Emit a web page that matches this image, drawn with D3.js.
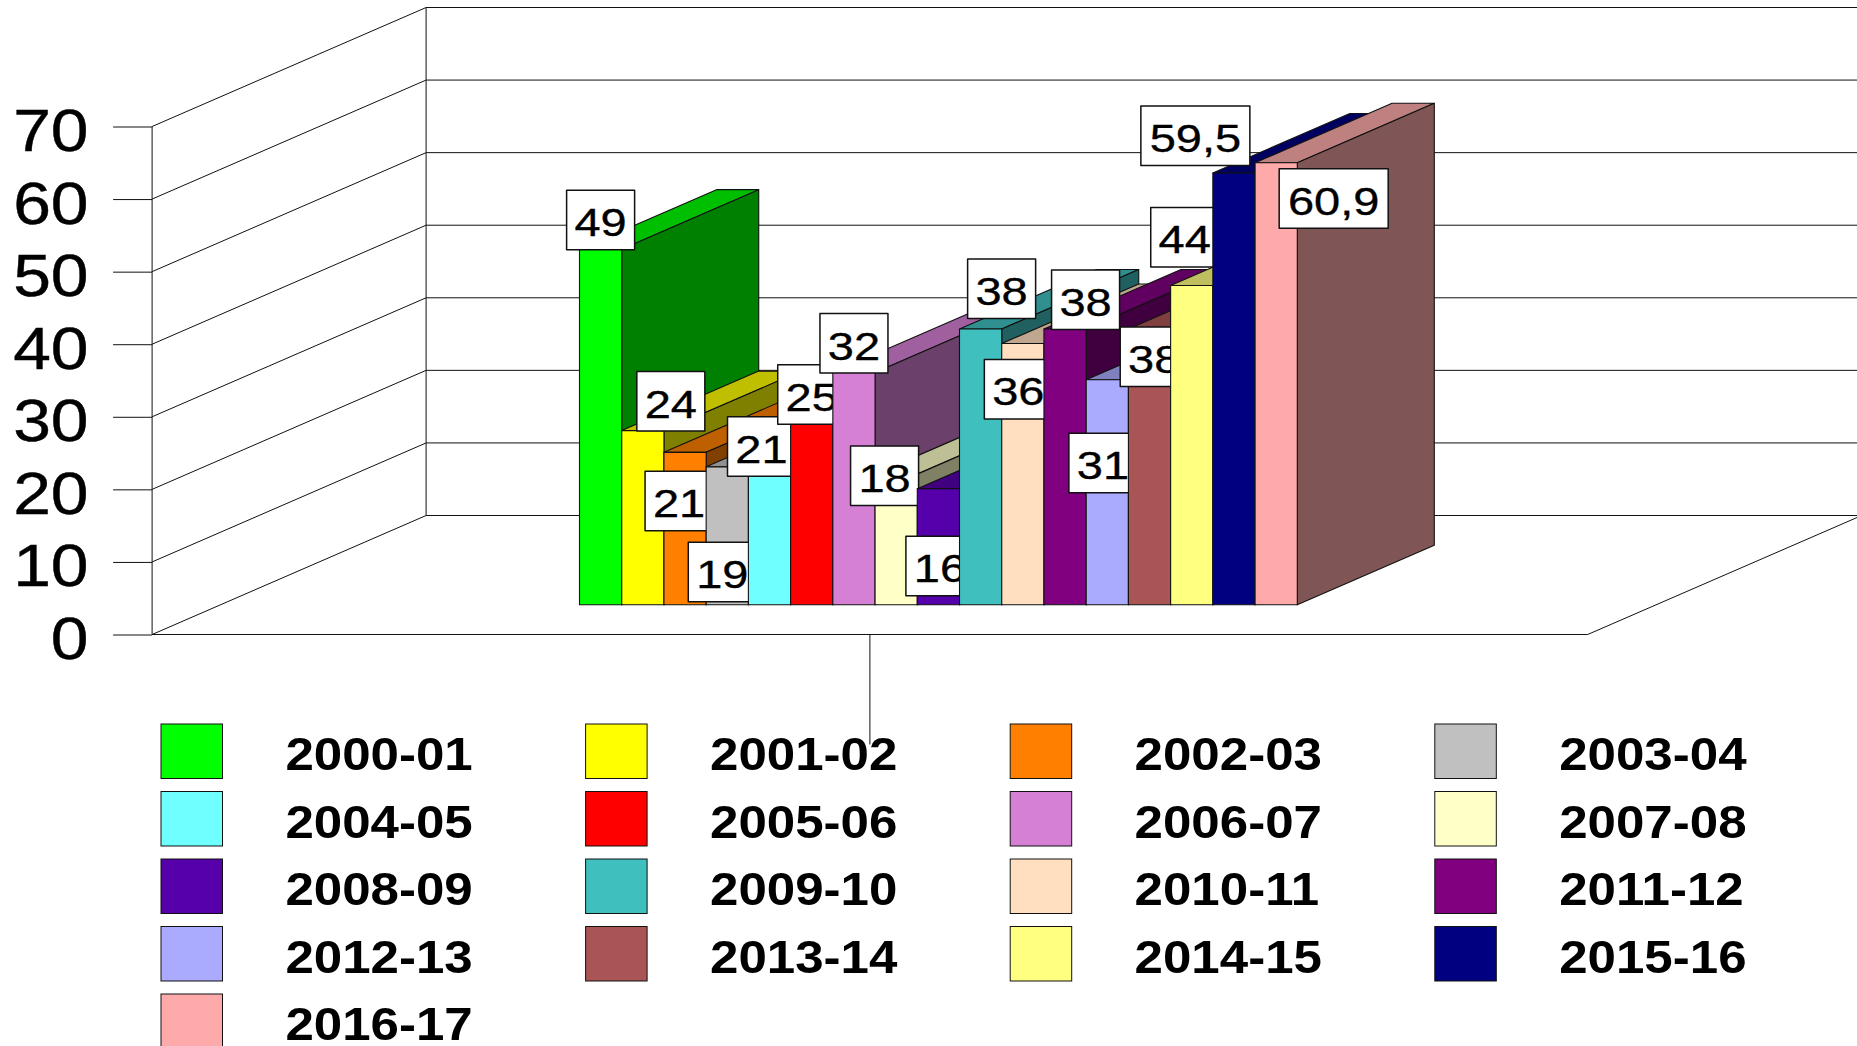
<!DOCTYPE html>
<html><head><meta charset="utf-8">
<script src="https://cdn.jsdelivr.net/npm/d3@7/dist/d3.min.js"></script>
<style>html,body{margin:0;padding:0;background:#fff;overflow:hidden}svg{display:block}text{font-family:"Liberation Sans",Arial,sans-serif;fill:#000}</style>
</head><body><svg id="c" width="1857" height="1046"></svg>
<script>
const seasons = ["2000-01","2001-02","2002-03","2003-04","2004-05","2005-06","2006-07","2007-08","2008-09","2009-10","2010-11","2011-12","2012-13","2013-14","2014-15","2015-16","2016-17"];
const values = [49,24,21,19,21,25,32,18,16,38,36,38,31,38,44,59.5,60.9];
const colors = ["#00FF00","#FFFF00","#FF8000","#C0C0C0","#70FFFF","#FF0000","#D580D5","#FFFFC8","#5500AA","#40BFBF","#FFDFBF","#800080","#AAAAFF","#AA5555","#FFFF80","#000080","#FFAAAA"];
const yTicks = [0,10,20,30,40,50,60,70];
// hand-placed label nudges, relative to a label centred on top of its bar
const labelDx = [0,28,-6,-5,-8,0,0,-11.6,1.5,21,-4.5,20.5,-4.4,4.7,-7,-38.6,57.5];
const labelDy = [1,1,79,135.5,24.5,1.5,1,32,107.5,-10,76,1,113.5,58,-18,-7,66];

const svg = d3.select("#c");
const INK = "#111";
const originX = 152.1, plotW = 1435.6, depthX = 274, depthY = 119;
const y = d3.scaleLinear().domain([0,70]).range([634.5,126.5]);
const x = d3.scaleBand().domain(seasons).range([plotW*0.25, plotW*0.75]).padding(0);
const px = (xv,z) => originX + xv + z*depthX;
const py = (v,z) => y(v) - z*depthY;
const Z0 = 0.25, Z1 = 0.75;
const line = d3.line();

// walls
const walls = svg.append("g").attr("fill","none").attr("stroke",INK).attr("stroke-width",1);
yTicks.forEach(t=>{
  walls.append("path").attr("d",line([[px(0,0),py(t,0)],[px(0,1),py(t,1)],[px(plotW,1),py(t,1)]]));
});
walls.append("path").attr("d",line([[px(0,0),py(0,0)],[px(0,0),py(70,0)]]));
walls.append("path").attr("d",line([[px(0,1),py(0,1)],[px(0,1),py(70,1)]]));
walls.append("path").attr("d",line([[px(0,0),py(0,0)],[px(plotW,0),py(0,0)],[px(plotW,1),py(0,1)]]));
walls.append("path").attr("d",line([[px(plotW/2,0),py(0,0)],[px(plotW/2,0),py(0,0)+110]]));

// y axis, through d3.axisLeft
const axis = svg.append("g").attr("transform",`translate(${originX},0)`)
  .call(d3.axisLeft(y).tickValues(yTicks).tickSize(39).tickPadding(0).tickFormat(d3.format("d")));
axis.select(".domain").remove();
axis.selectAll("line").attr("stroke",INK).attr("stroke-width",1);
axis.selectAll("text").each(function(d){
  d3.select(this).attr("x",null).attr("dy",null).attr("text-anchor","end")
    .attr("transform",`translate(-63.5,24) scale(1.15,1)`)
    .attr("font-size",59).attr("font-family",'"Liberation Sans",Arial,sans-serif')
    .attr("stroke","#000").attr("stroke-width",0.4);
});

// bars drawn left to right; each later bar hides earlier labels
const LW = 68, LW2 = 109, LH = 59.5;
seasons.forEach((s,i)=>{
  const v = values[i], c = d3.color(colors[i]);
  const xa = x(s), xb = xa + x.bandwidth();
  const shade = k => d3.rgb(c.r*k,c.g*k,c.b*k).formatHex();
  const g = svg.append("g").attr("stroke",INK).attr("stroke-width",1.1).attr("stroke-linejoin","round");
  g.append("path").attr("fill",shade(0.75)).attr("d",line([[px(xa,Z0),py(v,Z0)],[px(xb,Z0),py(v,Z0)],[px(xb,Z1),py(v,Z1)],[px(xa,Z1),py(v,Z1)]])+"Z");
  g.append("path").attr("fill",shade(0.5)).attr("d",line([[px(xb,Z0),py(0,Z0)],[px(xb,Z1),py(0,Z1)],[px(xb,Z1),py(v,Z1)],[px(xb,Z0),py(v,Z0)]])+"Z");
  g.append("path").attr("fill",colors[i]).attr("d",line([[px(xa,Z0),py(0,Z0)],[px(xb,Z0),py(0,Z0)],[px(xb,Z0),py(v,Z0)],[px(xa,Z0),py(v,Z0)]])+"Z");
  const txt = String(v).replace(".",",");
  const w = txt.length>2 ? LW2 : LW;
  const cx = px((xa+xb)/2,Z0) + labelDx[i];
  const by = py(v,Z0) + labelDy[i] - 0.5;
  g.append("rect").attr("x",cx-w/2).attr("y",by-LH).attr("width",w).attr("height",LH).attr("fill","#fff").attr("stroke-width",1.5);
  g.append("text").attr("transform",`translate(${cx},${by-13.5}) scale(1.19,1)`).attr("text-anchor","middle")
    .attr("font-size",39.5).attr("stroke","#000").attr("stroke-width",0.35).text(txt);
});

// legend
const colX = d3.scalePoint().domain([0,1,2,3]).range([161,1434.8]);
const rowY = d3.scalePoint().domain([0,1,2,3,4]).range([724,994]);
seasons.forEach((s,i)=>{
  const cX = colX(i%4), rY = rowY(Math.floor(i/4));
  svg.append("rect").attr("x",cX).attr("y",rY).attr("width",61.5).attr("height",54.5)
    .attr("fill",colors[i]).attr("stroke",INK).attr("stroke-width",1);
  svg.append("text").attr("transform",`translate(${cX+124.4},${rY+46}) scale(1.11,1)`)
    .attr("font-size",46).attr("font-weight","bold").text(s);
});
</script></body></html>
